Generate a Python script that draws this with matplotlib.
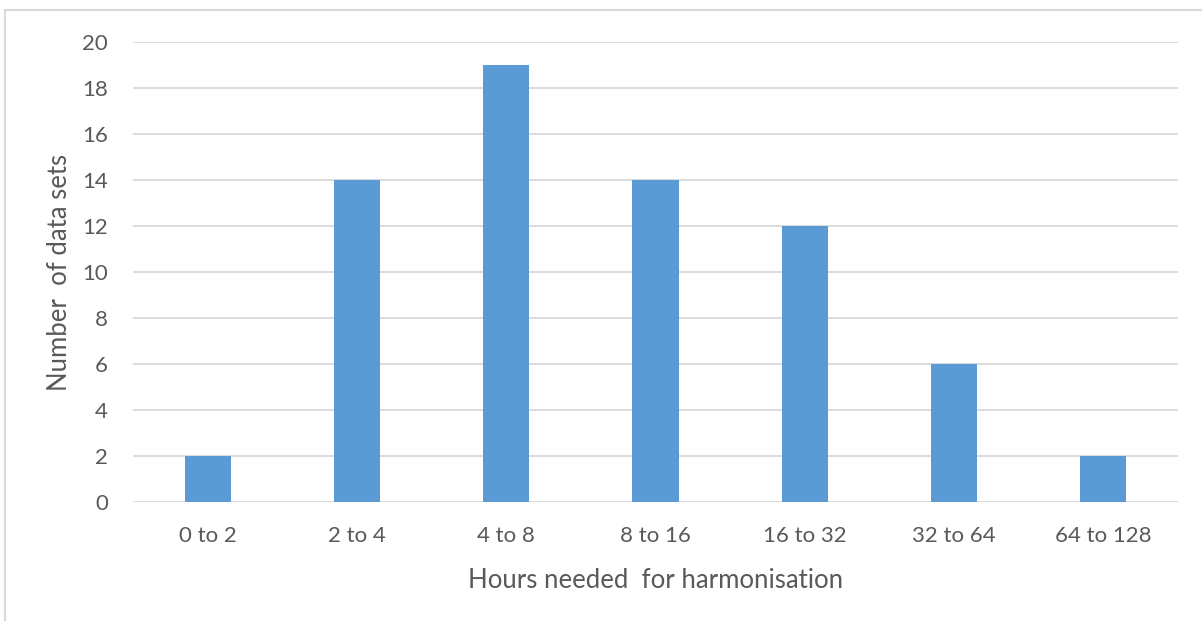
import matplotlib
matplotlib.use("Agg")
import matplotlib.pyplot as plt
from matplotlib.lines import Line2D
import numpy as np

categories = ["0 to 2", "2 to 4", "4 to 8", "8 to 16", "16 to 32", "32 to 64", "64 to 128"]
counts = [2, 14, 19, 14, 12, 6, 2]
y_ticks = list(range(0, 21, 2))

text_color = "#595959"
bar_color = "#5B9BD5"
grid_color = "#D9D9D9"

plt.rcParams["font.family"] = ["Lato", "DejaVu Sans"]

fig = plt.figure(figsize=(12.02, 6.21), dpi=100)
ax = fig.add_axes([133 / 1202, 1 - 502 / 621, (1178 - 133) / 1202, (502 - 42) / 621])

x = np.arange(len(categories))
ax.bar(x, counts, width=0.31, color=bar_color, zorder=3)

ax.set_xlim(-0.5, len(categories) - 0.5)
ax.set_ylim(0, 20)
ax.set_yticks(y_ticks)
ax.set_xticks(x)
ax.set_xticklabels(categories)
ax.yaxis.grid(True, color=grid_color, linewidth=1.3, zorder=0)
ax.tick_params(axis="both", length=0, labelsize=16, colors=text_color)
ax.tick_params(axis="y", pad=18)
ax.tick_params(axis="x", pad=17)
for s in ax.spines.values():
    s.set_visible(False)

ax.set_xlabel("Hours needed  for harmonisation", fontsize=18.5, color=text_color, labelpad=16)
ax.set_ylabel("Number  of data sets", fontsize=18.5, color=text_color, labelpad=7)

# outer chart frame
fx0 = 5 / 1202
fy1 = 1 - 10 / 621
fig.add_artist(Line2D([fx0, fx0], [0, fy1], transform=fig.transFigure, color="#D9D9D9", linewidth=1.5))
fig.add_artist(Line2D([fx0, 1], [fy1, fy1], transform=fig.transFigure, color="#D9D9D9", linewidth=1.5))

fig.savefig("out.png", dpi=100)
